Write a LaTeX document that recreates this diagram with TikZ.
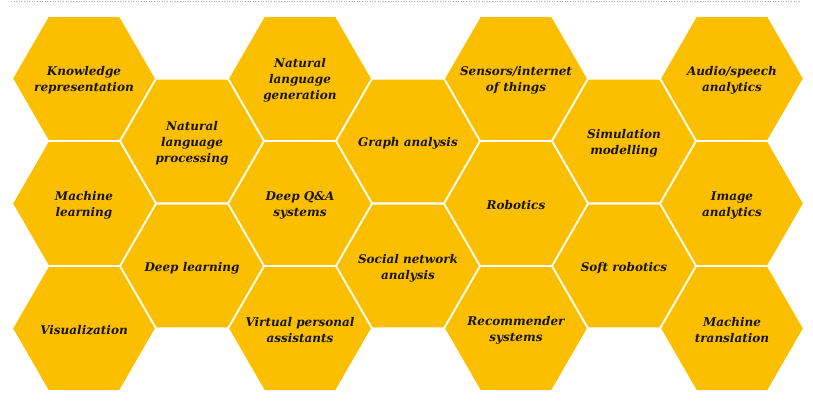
\documentclass[tikz,border=0pt]{standalone}
\usepackage{fontspec}
\setmainfont{DejaVu Serif}
\definecolor{hexyellow}{RGB}{251,191,0}
\definecolor{hextext}{RGB}{25,20,10}
\begin{document}
\begin{tikzpicture}[x=1pt,y=-1pt,
  hexfill/.style={fill=hexyellow},
  hexlabel/.style={align=center,text=hextext,font=\fontsize{12}{16}\selectfont\bfseries\itshape,inner sep=0pt,yshift=-1.8pt},
  topline/.style={draw=black!35,dotted,line width=0.6pt}]
\useasboundingbox (0,0) rectangle (813,403);
\coordinate (tl) at (11,1);
\coordinate (tr) at (801,1);
\draw[topline] (tl) -- (tr);
\newcommand\hexcell[4]{%
  \fill[hexfill] (#2,#3) +(0:70.8) -- +(60:70.8) -- +(120:70.8) -- +(180:70.8) -- +(240:70.8) -- +(300:70.8) -- cycle;
  \node[hexlabel] (#1) at (#2,#3) {#4};}
% column 0
\hexcell{kr}{84}{78.5}{Knowledge\\representation}
\hexcell{ml}{84}{203.5}{Machine\\learning}
\hexcell{vis}{84}{328.5}{Visualization}
% column 1
\hexcell{nlp}{192}{141}{Natural\\language\\processing}
\hexcell{dl}{192}{266}{Deep learning}
% column 2
\hexcell{nlg}{300}{78.5}{Natural\\language\\generation}
\hexcell{dqa}{300}{203.5}{Deep Q\&A\\systems}
\hexcell{vpa}{300}{328.5}{Virtual personal\\assistants}
% column 3
\hexcell{ga}{408}{141}{Graph analysis}
\hexcell{sna}{408}{266}{Social network\\analysis}
% column 4
\hexcell{sen}{516}{78.5}{Sensors/internet\\of things}
\hexcell{rob}{516}{203.5}{Robotics}
\hexcell{rec}{516}{328.5}{Recommender\\systems}
% column 5
\hexcell{sim}{624}{141}{Simulation\\modelling}
\hexcell{soft}{624}{266}{Soft robotics}
% column 6
\hexcell{aud}{732}{78.5}{Audio/speech\\analytics}
\hexcell{img}{732}{203.5}{Image\\analytics}
\hexcell{mt}{732}{328.5}{Machine\\translation}
\end{tikzpicture}
\end{document}
